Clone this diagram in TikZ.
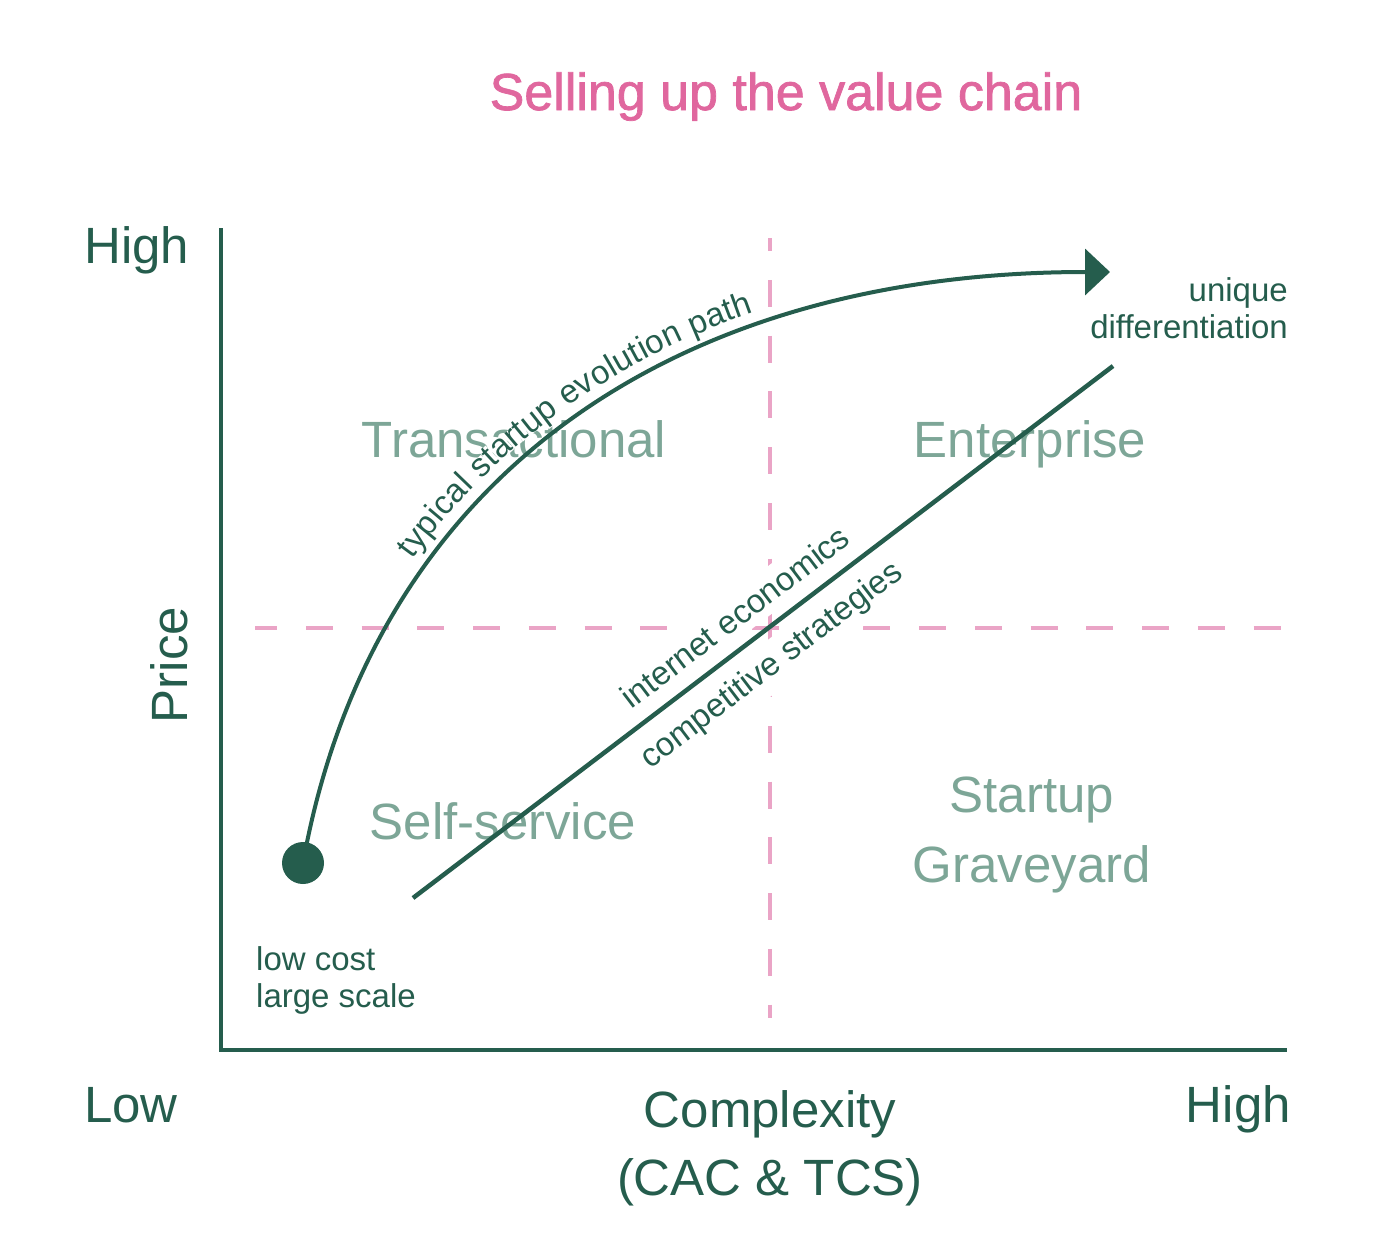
\documentclass[tikz,border=0pt]{standalone}
\usepackage{fontspec}
\setmainfont{Liberation Sans}
\newfontfamily\titlefont{Liberation Sans}[FakeBold=1.4]
\usetikzlibrary{arrows.meta,decorations.text}
\definecolor{pathgreen}{RGB}{37,93,77}
\definecolor{zonegreen}{RGB}{125,166,151}
\definecolor{gridpink}{RGB}{234,164,198}
\definecolor{titlepink}{RGB}{224,103,158}
\newcommand{\bigtxt}{\fontsize{51}{68}\selectfont}
\newcommand{\smalltxt}{\fontsize{33}{37}\selectfont}
\tikzset{
  axis/.style={line width=4pt,pathgreen},
  quarter/.style={line width=3.5pt,gridpink,dash pattern=on 27pt off 28.75pt},
  zone/.style={zonegreen,font=\bigtxt,inner sep=0pt},
  axislabel/.style={pathgreen,font=\bigtxt,inner sep=0pt},
  note/.style={pathgreen,font=\smalltxt,inner sep=0pt},
  route/.style={line width=4.5pt,pathgreen},
}
\begin{document}
\begin{tikzpicture}[x=1pt,y=-1pt]
	\useasboundingbox (0,0) rectangle (1388,1258);
	\node[titlepink,font=\titlefont\fontsize{52}{60}\selectfont,anchor=base,inner sep=0pt] (title) at (786,110) {Selling up the value chain};
	% axes and quadrants
	\coordinate (origin) at (221,1050);
	\coordinate (ytop) at (221,228);
	\coordinate (xend) at (1287,1050);
	\coordinate (vtop) at (770,238);
	\coordinate (vbot) at (770,1018);
	\coordinate (hleft) at (255,628);
	\coordinate (hright) at (1290,628);
	\draw[quarter,dash phase=14pt] (vtop) -- (vbot);
	\draw[quarter,dash phase=5pt] (hleft) -- (hright);
	\draw[axis] (ytop) -- (origin) -- (xend);
	\node[axislabel,anchor=base west] (yhigh) at (84,263) {High};
	\node[axislabel,anchor=base,rotate=90] (price) at (187,665) {Price};
	\node[axislabel,anchor=base west] (xlow) at (84,1122) {Low};
	\node[axislabel,anchor=base east] (xhigh) at (1291,1122) {High};
	\node[axislabel,anchor=north,align=center] (complexity) at (770,1090) {Complexity\\(CAC \& TCS)};
	\node[zone,anchor=base] (transactional) at (514,457) {Transactional};
	\node[zone,anchor=base] (enterprise) at (1030,457) {Enterprise};
	\node[zone,anchor=base] (selfservice) at (503,839) {Self-service};
	\node[zone,font=\fontsize{51}{70}\selectfont,anchor=north,align=center] (graveyard) at (1032,777) {Startup\\Graveyard};
	\node[note,anchor=base east,align=right] (unique) at (1288,338) {unique\\differentiation};
	\node[note,anchor=north west,align=left] (lowcost) at (256,946) {low cost\\large scale};
	% paths
	\node[circle,fill=pathgreen,minimum size=42pt,inner sep=0pt] (start) at (303,863) {};
	\coordinate (tip) at (1110,272);
	\coordinate (low) at (413,898);
	\coordinate (high) at (1113,366);
	\path (low) -- (high)
		node[note,pos=0.485,sloped,above=9pt,fill=white,inner sep=8pt] (internet) {internet economics}
		node[note,pos=0.485,sloped,below=9pt,fill=white,inner sep=8pt] (competitive) {competitive strategies};
	\path[decorate,decoration={text effects along path,
		text={typical startup evolution path},raise=15pt,
		text effects/.cd,text along path,
		characters={text=pathgreen,fill=white,inner sep=0pt,font=\smalltxt}}]
		(425,568) .. controls (564.5,375.9) and (800,272) .. (tip);
	\draw[route] (low) -- (high);
	\draw[route,line width=4pt,-{Triangle[length=25pt,width=46pt]}] (start.center) .. controls (372,480) and (670,272) .. (tip);
\end{tikzpicture}
\end{document}
